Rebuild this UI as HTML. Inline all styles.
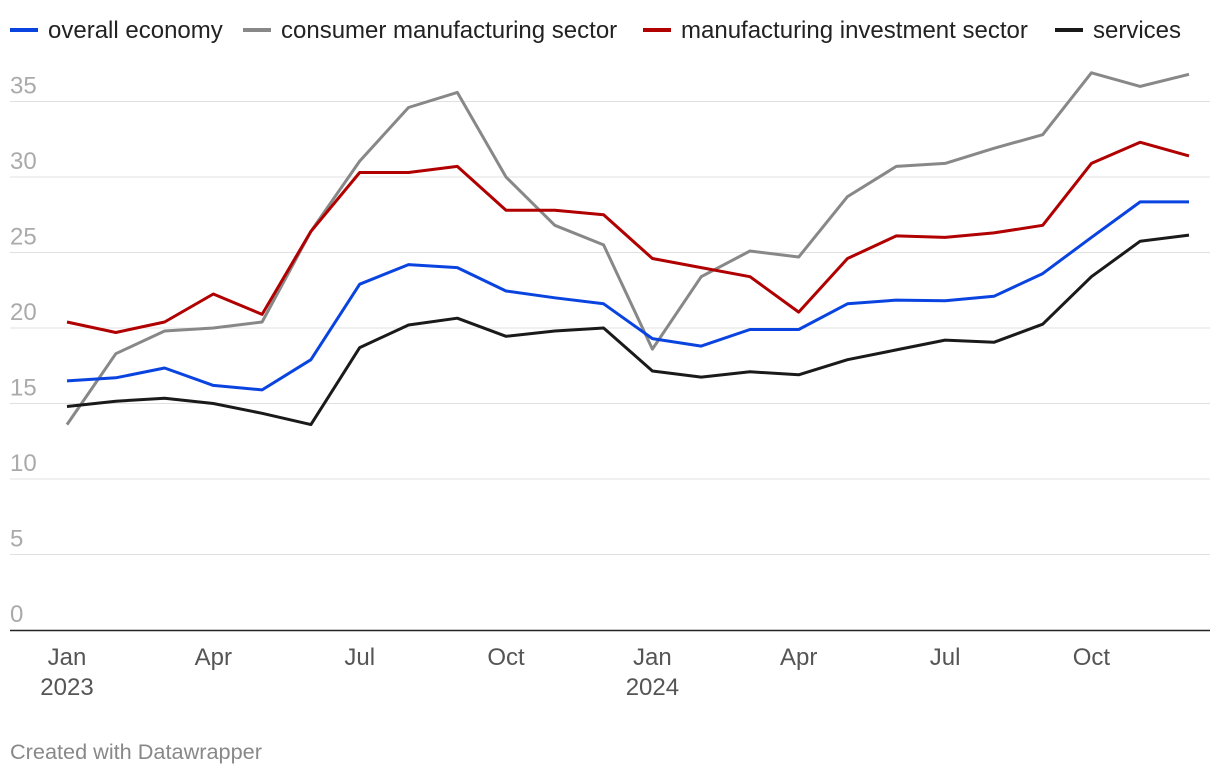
<!DOCTYPE html>
<html><head><meta charset="utf-8"><style>
body{margin:0;background:#fff;font-family:"Liberation Sans",sans-serif;}
svg text{font-family:"Liberation Sans",sans-serif;}
</style></head><body>
<svg id="chart" width="1220" height="778" xmlns="http://www.w3.org/2000/svg">
<g id="legend"></g>
<g id="grid"></g>
<g id="lines"></g>
<g id="xaxis"></g>
<text x="10" y="759" font-size="21.7" fill="#888">Created with Datawrapper</text>
</svg>
<script>
const months = 24;
const yTicks = [0,5,10,15,20,25,30,35];
const xTickIdx = [0,3,6,9,12,15,18,21];
const xTickLabels = ["Jan","Apr","Jul","Oct","Jan","Apr","Jul","Oct"];
const yearLabels = [[0,"2023"],[12,"2024"]];
const seriesNames = ["overall economy","consumer manufacturing sector","manufacturing investment sector","services"];
const seriesColors = ["#0a44e0","#888888","#b00000","#1a1a1a"];
const overall = [16.5,16.7,17.35,16.2,15.9,17.9,22.9,24.2,24.0,22.45,22.0,21.6,19.3,18.8,19.9,19.9,21.6,21.85,21.8,22.1,23.6,26.0,28.35,28.35];
const consumer = [13.6,18.3,19.8,20.0,20.4,26.4,31.05,34.6,35.6,30.0,26.8,25.5,18.6,23.4,25.1,24.7,28.7,30.7,30.9,31.9,32.8,36.9,36.0,36.8];
const investment = [20.4,19.7,20.4,22.25,20.9,26.4,30.3,30.3,30.7,27.8,27.8,27.5,24.6,24.0,23.4,21.05,24.6,26.1,26.0,26.3,26.8,30.9,32.3,31.4];
const services = [14.8,15.15,15.35,15.0,14.35,13.6,18.7,20.2,20.65,19.45,19.8,20.0,17.15,16.75,17.1,16.9,17.9,18.55,19.2,19.05,20.25,23.4,25.75,26.15];
const allSeries = [overall,consumer,investment,services];

const NS="http://www.w3.org/2000/svg";
const x = i => 67 + i*(1189-67)/(months-1);
const y = v => 630 - v*15.1;
function mk(tag,attrs,parent){const e=document.createElementNS(NS,tag);for(const k in attrs)e.setAttribute(k,attrs[k]);parent.appendChild(e);return e;}

const grid=document.getElementById('grid');
yTicks.forEach(t=>{
  if(t>0){const l=mk('line',{x1:10,x2:1210,y1:y(t),y2:y(t),stroke:'#e0e0e0','stroke-width':1},grid);
  
  }
  const tx=mk('text',{x:10,y:y(t)-8,'font-size':24,fill:'#aaa'},grid);
  tx.textContent=t;
  
  
});
const xa=document.getElementById('xaxis');
const ax=mk('line',{x1:10,x2:1210,y1:630.5,y2:630.5,stroke:'#222','stroke-width':1.5},xa);


xTickIdx.forEach((idx,j)=>{
  const t=mk('text',{x:x(idx),y:665,'font-size':24,fill:'#555','text-anchor':'middle'},xa);
  t.textContent=xTickLabels[j];
  
  
});
yearLabels.forEach(([idx,lab])=>{
  const t=mk('text',{x:x(idx),y:695,'font-size':24,fill:'#555','text-anchor':'middle'},xa);
  t.textContent=lab;
  
  
});
const lines=document.getElementById('lines');
[1,2,0,3].forEach(s=>{
  const d=allSeries[s].map((v,i)=>(i?'L':'M')+x(i).toFixed(1)+','+y(v).toFixed(1)).join('');
  const p=mk('path',{d:d,fill:'none',stroke:seriesColors[s],'stroke-width':3,'stroke-linejoin':'round'},lines);
  
  
});
const lg=document.getElementById('legend');
const lx=[10,243,643,1055];
seriesNames.forEach((n,i)=>{
  const r=mk('rect',{x:lx[i],y:28,width:28,height:4,fill:seriesColors[i]},lg);
  
  
  const t=mk('text',{x:lx[i]+38,y:38,'font-size':24,fill:'#222'},lg);
  t.textContent=n;
  
  
});
</script>
</body></html>
